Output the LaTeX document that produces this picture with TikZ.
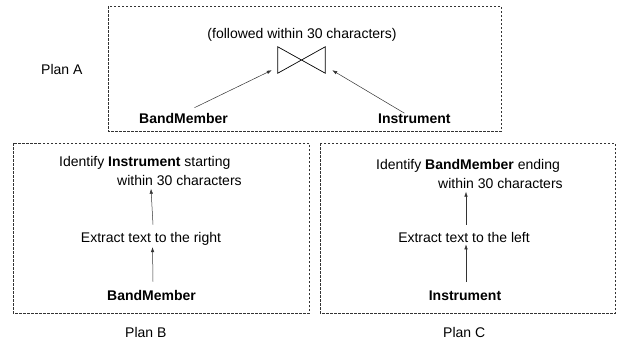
\documentclass[tikz,border=0pt]{standalone}
\usepackage{fontspec}
\setmainfont{Liberation Sans}
\usetikzlibrary{arrows.meta}
\begin{document}
\begin{tikzpicture}[x=1pt,y=-1pt,
  txt/.style={inner sep=0pt,font=\fontsize{14}{19}\selectfont},
  planbox/.style={draw=black!80,line width=0.8pt,dash pattern=on 2.5pt off 1.5pt},
  arr/.style={draw=black!80,line width=0.5pt,-{Latex[length=5pt,width=3.5pt]}},
  tie/.style={draw=black,line width=0.7pt}]
\useasboundingbox (0,0) rectangle (618,341);
% boxes
\draw[planbox] (108,6) rectangle (501,131);
\draw[planbox] (13,143) rectangle (309,313);
\draw[planbox] (320,143) rectangle (615,313);
% Plan A
\node[txt,anchor=base west] (planA) at (41,74) {Plan A};
\node[txt,anchor=base] (follow) at (302,38) {(followed within 30 characters)};
\node[minimum width=47pt,minimum height=26pt,inner sep=0pt] (join) at (301.5,60) {};
\draw[tie] (join.north west) -- (join.south west) -- (join.north east) -- (join.south east) -- cycle;
\node[txt,anchor=base west] (bmA) at (139,123) {\textbf{BandMember}};
\node[txt,anchor=base west] (instA) at (378,123) {\textbf{Instrument}};
\draw[arr] ([xshift=11pt,yshift=5pt]bmA.north) -- ([xshift=-6pt,yshift=3pt]join.south west);
\draw[arr] ([xshift=-10pt,yshift=0pt]instA.north) -- ([xshift=7pt,yshift=3pt]join.south east);
% Plan B
\node[txt,anchor=north west,align=left] (idB) at (59,156) {Identify \textbf{Instrument} starting\\\hspace*{58pt}within 30 characters};
\node[txt,anchor=base] (extB) at (151,242) {Extract text to the right};
\node[txt,anchor=base] (bmB) at (151.5,300) {\textbf{BandMember}};
\node[txt,anchor=base west] (planB) at (125,337) {Plan B};
\draw[arr] ([xshift=1.5pt,yshift=8pt]bmB.north) -- ([xshift=1.5pt,yshift=-2pt]extB.south);
\draw[arr] ([xshift=2pt,yshift=7pt]extB.north) -- ([yshift=-3pt]extB.north |- idB.south);
% Plan C
\node[txt,anchor=north west,align=left] (idC) at (376,159) {Identify \textbf{BandMember} ending\\\hspace*{62pt}within 30 characters};
\node[txt,anchor=base] (extC) at (464,242) {Extract text to the left};
\node[txt,anchor=base] (instC) at (465,300) {\textbf{Instrument}};
\node[txt,anchor=base west] (planC) at (443,337) {Plan C};
\draw[arr] ([xshift=1pt,yshift=8pt]instC.north) -- ([xshift=2pt,yshift=-2pt]extC.south);
\draw[arr] ([xshift=2pt,yshift=7pt]extC.north) -- ([xshift=2pt,yshift=-3pt]extC.north |- idC.south);
\end{tikzpicture}
\end{document}
